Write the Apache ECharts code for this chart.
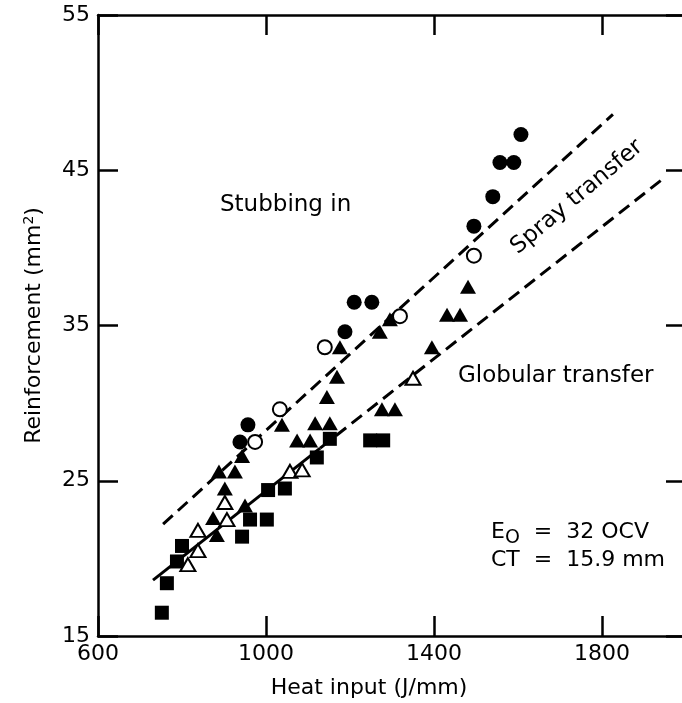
<!DOCTYPE html>
<html>
<head>
<meta charset="utf-8">
<script src="https://cdn.jsdelivr.net/npm/echarts@6/dist/echarts.min.js"></script>
<style>
    html, body { margin: 0; padding: 0; background: #fff; }
    #chart { width: 682px; height: 703px; }
</style>
</head>
<body>
<div id="chart"></div>
<script>
// values, [heat input J/mm, reinforcement mm2]
const filledCircles = [[938, 27.5], [957, 28.6], [1188, 34.6], [1210, 36.5], [1252, 36.5],
    [1495, 41.4], [1540, 43.3], [1557, 45.5], [1590, 45.5], [1607, 47.3]]
const openCircles = [[974, 27.5], [1033, 29.6], [1140, 33.6], [1319, 35.6], [1495, 39.5]]
const filledTriangles = [[874, 22.6], [883, 21.5], [950, 23.4], [902, 24.5], [888, 25.6], [926, 25.6],
    [943, 26.6], [1038, 28.6], [1074, 27.6], [1105, 27.6], [1117, 28.7], [1152, 28.7], [1145, 30.4],
    [1169, 31.7], [1176, 33.6], [1271, 34.6], [1295, 35.4], [1276, 29.6], [1307, 29.6], [1395, 33.6],
    [1431, 35.7], [1462, 35.7], [1481, 37.5]]
const openTriangles = [[814, 19.6], [838, 20.5], [838, 21.8], [907, 22.5], [902, 23.6],
    [1057, 25.6], [1086, 25.7], [1350, 31.6]]
const squares = [[752, 16.5], [764, 18.4], [788, 19.8], [800, 20.8], [943, 21.4], [962, 22.5],
    [1002, 22.5], [1005, 24.4], [1045, 24.5], [1121, 26.5], [1152, 27.7], [1248, 27.6], [1279, 27.6]]

// fitted lines
const sprayLine = [[755, 22.2], [1826, 48.6]]
const globularSolid = [[731, 18.6], [1129, 27.1]]
const globularDashed = [[1129, 27.1], [1943, 44.4]]

const xTicks = [600, 1000, 1400, 1800]
const yTicks = [15, 25, 35, 45, 55]

const font = 'DejaVu Sans'
const ink = '#000'

function pointSeries(data, symbol, size, filled) {
    return {
        type: 'scatter',
        data: data,
        symbol: symbol,
        symbolSize: size,
        z: 5,
        itemStyle: filled
            ? { color: ink, opacity: 1 }
            : { color: '#fff', borderColor: ink, borderWidth: 2, opacity: 1 }
    }
}

function lineSeries(data, dashed) {
    return {
        type: 'line',
        data: data,
        symbol: 'none',
        z: 3,
        lineStyle: {
            color: ink,
            width: 3,
            type: dashed ? [13, 7] : 'solid'
        }
    }
}

function boxAxis(pos, isX, showLabel) {
    let axis = {
        type: 'value',
        position: pos,
        min: isX ? xTicks[0] : yTicks[0],
        max: isX ? 2000 : yTicks[yTicks.length - 1],
        interval: isX ? 400 : 10,
        axisLine: { show: true, onZero: false, lineStyle: { color: ink, width: 2.5 } },
        axisTick: { show: true, inside: true, length: 20, lineStyle: { color: ink, width: 2.5 } },
        splitLine: { show: false },
        axisLabel: {
            show: showLabel,
            color: ink,
            fontFamily: font,
            fontSize: 22,
            margin: isX ? 7 : 8,
            showMaxLabel: isX ? false : true,
            formatter: v => String(v)
        }
    }
    return axis
}

const myChart = echarts.init(document.getElementById('chart'))

let xBottom = boxAxis('bottom', true, true)
xBottom.name = 'Heat input (J/mm)'
xBottom.nameLocation = 'middle'
xBottom.nameGap = 41
xBottom.nameTextStyle = { color: ink, fontFamily: font, fontSize: 22, padding: [0, 46, 0, 0] }

let yLeft = boxAxis('left', false, true)
yLeft.name = 'Reinforcement (mm{sup|2})'
yLeft.nameLocation = 'middle'
yLeft.nameGap = 52
yLeft.nameTextStyle = {
    color: ink, fontFamily: font, fontSize: 22,
    rich: { sup: { fontSize: 14, fontFamily: font, color: ink, padding: [0, 0, 10, 0] } }
}

const option = {
    animation: false,
    backgroundColor: '#fff',
    grid: { left: 98, right: -4, top: 15, bottom: 67, outerBoundsMode: 'none' },
    xAxis: [xBottom, boxAxis('top', true, false)],
    yAxis: [yLeft, boxAxis('right', false, false)],
    series: [
        lineSeries(sprayLine, true),
        lineSeries(globularSolid, false),
        lineSeries(globularDashed, true),
        pointSeries(squares, 'rect', 14, true),
        pointSeries(openTriangles, 'triangle', [15, 13], false),
        pointSeries(filledTriangles, 'triangle', [16, 14], true),
        pointSeries(openCircles, 'circle', 14, false),
        pointSeries(filledCircles, 'circle', 15, true)
    ],
    graphic: [
        { type: 'text', x: 220, y: 205, style: { text: 'Stubbing in', font: '23px ' + font, fill: ink, verticalAlign: 'middle' } },
        { type: 'text', x: 458, y: 376, style: { text: 'Globular transfer', font: '23px ' + font, fill: ink, verticalAlign: 'middle' } },
        {
            type: 'text', x: 577, y: 197, rotation: 40 * Math.PI / 180,
            style: { text: 'Spray transfer', font: '23px ' + font, fill: ink, align: 'center', verticalAlign: 'middle' }
        },
        {
            type: 'text', x: 491, y: 532,
            style: {
                text: 'E{sub|O}  =  32 OCV', font: '22px ' + font, fill: ink, verticalAlign: 'middle',
                rich: { sub: { fontSize: 19, fontFamily: font, fill: ink, padding: [12, 0, 0, 0] } }
            }
        },
        { type: 'text', x: 491, y: 560, style: { text: 'CT  =  15.9 mm', font: '22px ' + font, fill: ink, verticalAlign: 'middle' } }
    ]
}

myChart.setOption(option)
</script>
</body>
</html>
